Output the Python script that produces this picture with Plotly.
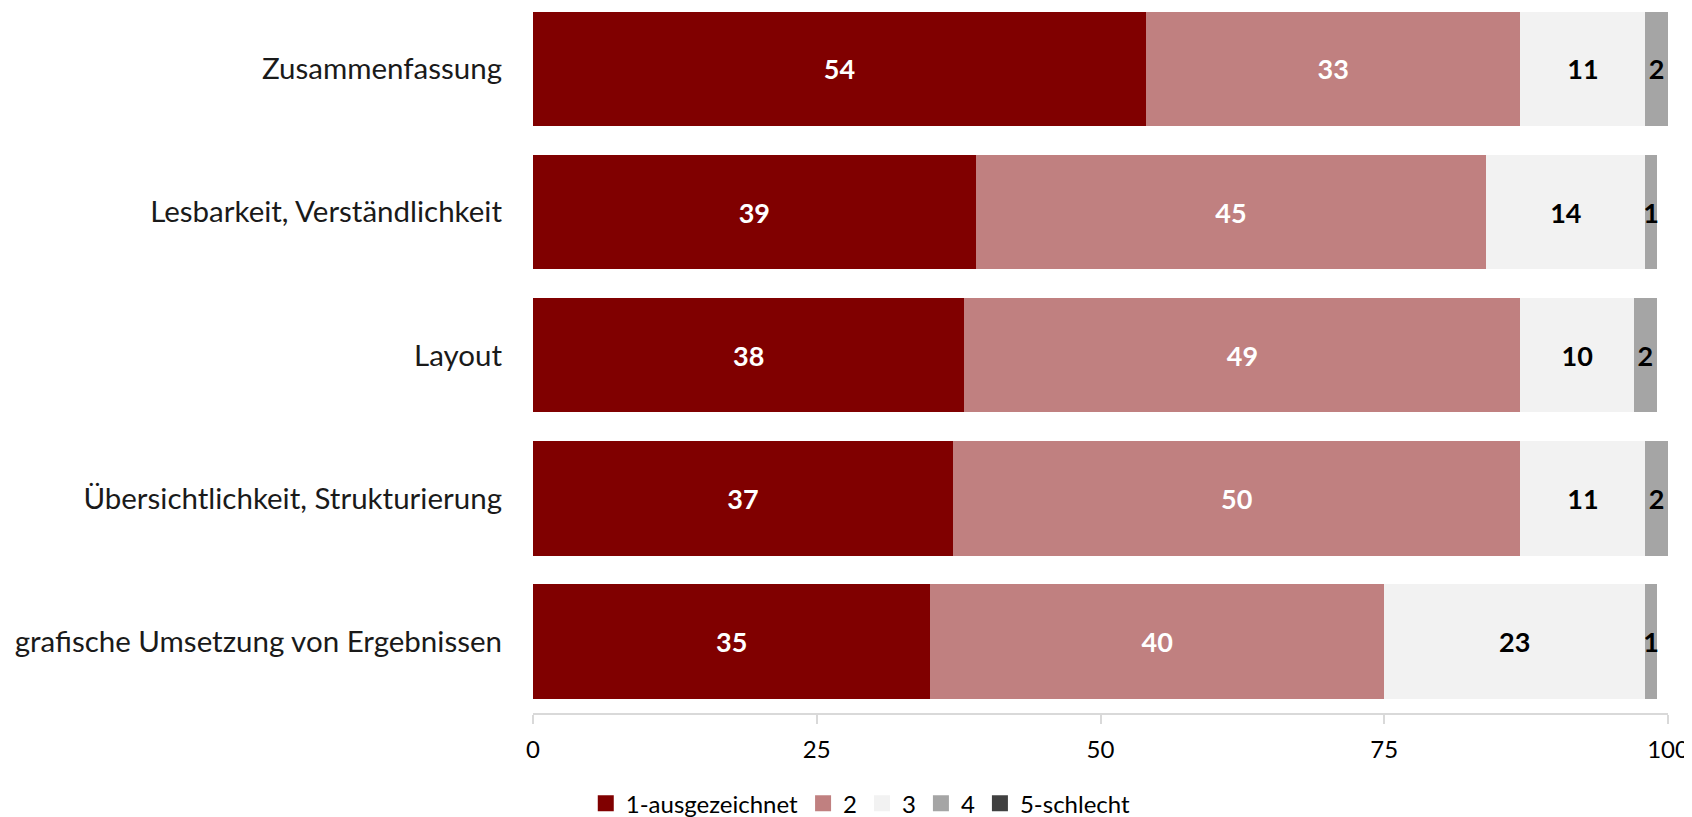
import plotly.graph_objects as go

categories = ["Zusammenfassung", "Lesbarkeit, Verständlichkeit", "Layout",
              "Übersichtlichkeit, Strukturierung", "grafische Umsetzung von Ergebnissen"]
series_names = ["1-ausgezeichnet", "2", "3", "4", "5-schlecht"]
s1 = [54, 39, 38, 37, 35]
s2 = [33, 45, 49, 50, 40]
s3 = [11, 14, 10, 11, 23]
s4 = [2, 1, 2, 2, 1]
s5 = [0, 0, 0, 0, 0]
tick_vals = [0, 25, 50, 75, 100]

colors = ["#800000", "#c08080", "#f2f2f2", "#a5a5a5", "#404040"]
text_colors = ["white", "white", "black", "black", "white"]
FONT = "Lato, Carlito, Calibri, sans-serif"

fig = go.Figure()
for name, vals, c, tc in zip(series_names, [s1, s2, s3, s4, s5], colors, text_colors):
    fig.add_trace(go.Bar(
        y=categories, x=vals, name=name, orientation="h",
        marker=dict(color=c, line=dict(width=0)),
        text=[str(v) if v > 0 else "" for v in vals],
        textposition="inside", insidetextanchor="middle",
        constraintext="none", textangle=0,
        textfont=dict(color=tc, size=27, family=FONT, weight="bold"),
        hoverinfo="skip", showlegend=False, legendgroup=name,
    ))
# legend entries with larger square swatches
for name, c in zip(series_names, colors):
    fig.add_trace(go.Scatter(
        x=[None], y=[None], mode="markers", name=name, legendgroup=name,
        marker=dict(symbol="square", size=17, color=c, line=dict(width=0)),
        hoverinfo="skip", showlegend=True,
    ))

fig.update_layout(
    width=1692, height=817,
    barmode="stack", bargap=0.2,
    plot_bgcolor="white", paper_bgcolor="white",
    margin=dict(l=525, r=32, t=0, b=112),
    font=dict(family=FONT, color="#000000"),
    showlegend=True,
    legend=dict(orientation="h", x=0.504, xanchor="center", xref="container",
                y=0.026, yanchor="middle", yref="container",
                font=dict(size=24, family=FONT),
                traceorder="normal", itemwidth=30),
    uniformtext=dict(mode=False),
)
fig.update_xaxes(range=[0, 100], tickvals=tick_vals, ticktext=[str(v) for v in tick_vals],
                 showgrid=False, zeroline=False, showline=True, linecolor="#d9d9d9", linewidth=2,
                 ticks="outside", ticklen=9, tickcolor="#d9d9d9", tickwidth=1.5,
                 ticklabelstandoff=5, automargin=False,
                 tickfont=dict(size=24, family=FONT, color="#000000"), fixedrange=True)
fig.update_yaxes(range=[4.5, -0.426], showgrid=False, zeroline=False, showline=False,
                 ticks="", ticklabelstandoff=30, automargin=False,
                 tickfont=dict(size=29.5, family=FONT, color="#1a1a1a"))

fig.write_html("out.html")
